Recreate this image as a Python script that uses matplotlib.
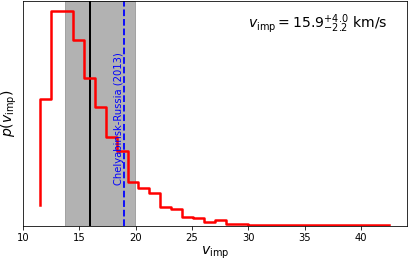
import numpy as np
import matplotlib
matplotlib.use("Agg")
import matplotlib.pyplot as plt

# histogram of impact velocity (arbitrary density units)
bin_lo, bin_hi, n_bins = 11.55, 42.5, 32
start_val = 21
counts = [127, 215, 215, 186, 148, 119, 89, 75, 44, 38, 33, 19, 17, 9, 8, 4,
          6, 2, 2, 1, 1, 1.3, 0.7, 1.3, 0.5, 0.5, 0.5, 0.5, 0.5, 0.5, 0.5, 0.5]

v_med, v_plus, v_minus = 15.95, 4.0, 2.2
v_chelyabinsk = 19.0
event_label = "Chelyabinsk-Russia (2013)"

edges = np.linspace(bin_lo, bin_hi, n_bins + 1)
yvals = [start_val] + counts

DPI = 72
fig = plt.figure(figsize=(408 / DPI, 260 / DPI), dpi=DPI)
ax = fig.add_axes([0.056, 0.131, 0.941, 0.865])

ax.axvspan(v_med - v_minus, v_med + v_plus, color="gray", alpha=0.6)
ax.axvline(v_med, color="k", lw=2)
ax.axvline(v_chelyabinsk, color="b", ls="--", lw=1.8)
ax.step(edges, yvals, where="pre", color="r", lw=2.5)

ax.text(v_chelyabinsk - 0.45, 0.475 * max(counts) * 1.045, event_label,
        rotation=90, color="b", fontsize=10, ha="center", va="center")
ax.text(0.95, 0.95,
        r"$v_{\rm imp} = 15.9^{+4.0}_{-2.2}$ km/s",
        transform=ax.transAxes, ha="right", va="top", fontsize=14)

ax.set_xlim(bin_lo - 0.05 * (bin_hi - bin_lo), bin_hi + 0.05 * (bin_hi - bin_lo))
ax.set_ylim(0, max(counts) * 1.045)
ax.set_yticks([])
ax.set_xticks([10, 15, 20, 25, 30, 35, 40])
ax.set_xlabel(r"$v_{\rm imp}$", fontsize=14, labelpad=2)
ax.set_ylabel(r"$p(v_{\rm imp})$", fontsize=14)

fig.savefig("out.png", dpi=DPI)
